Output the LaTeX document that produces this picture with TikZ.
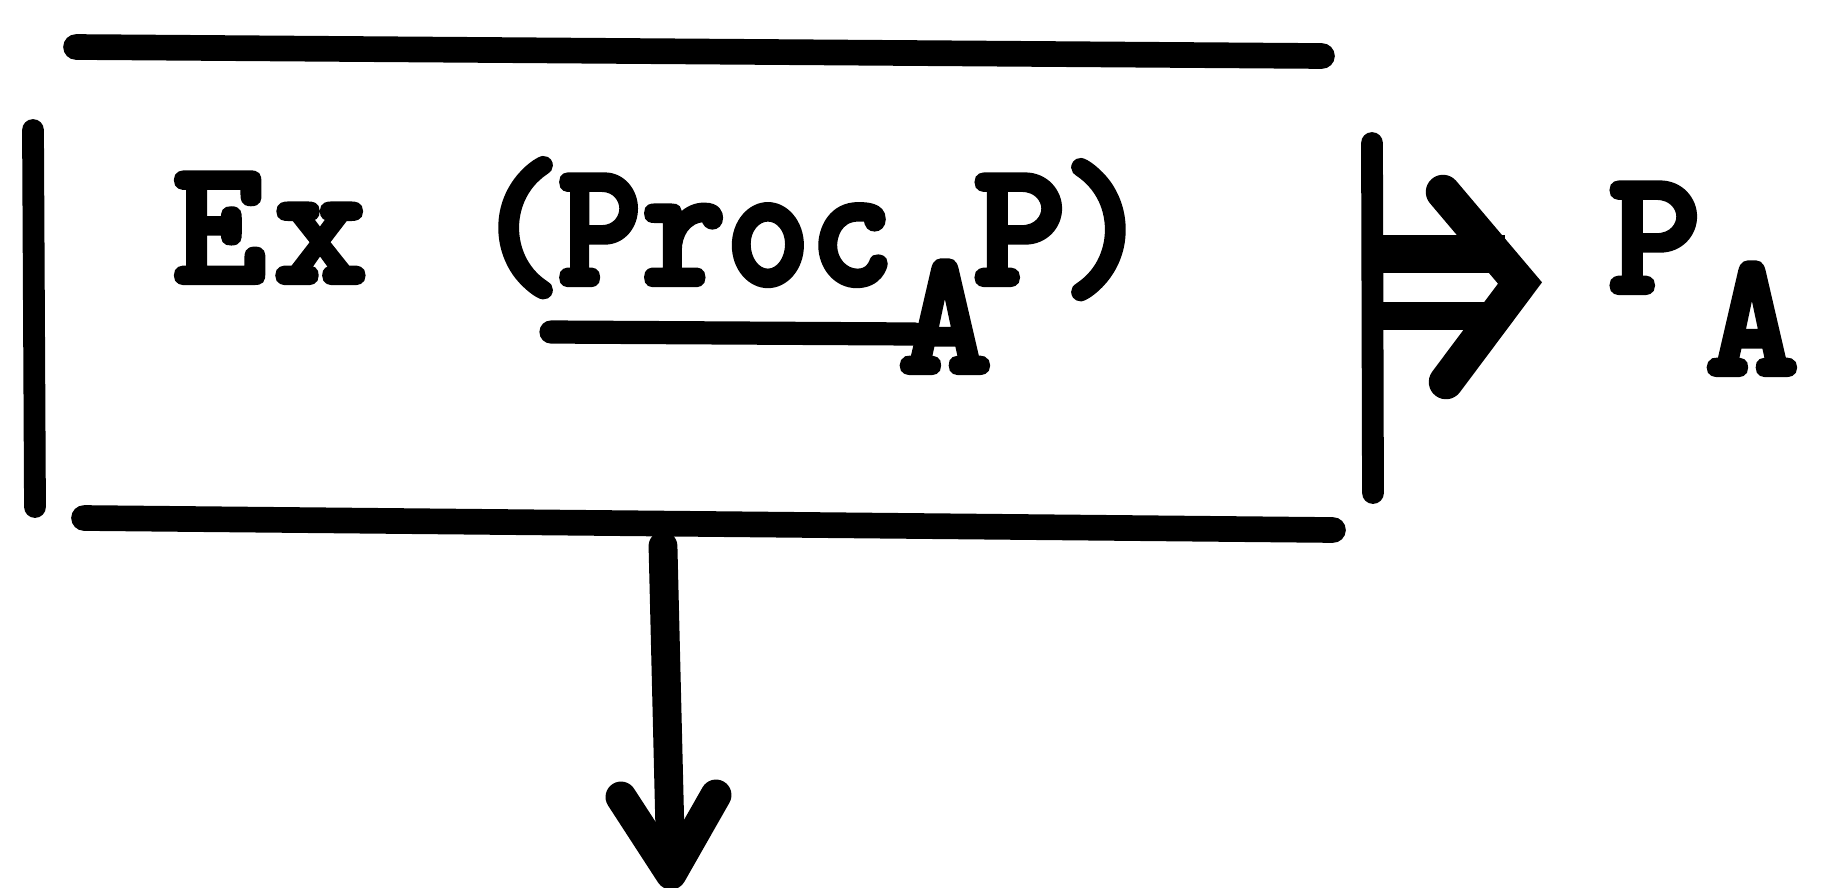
\documentclass[tikz,border=0pt]{standalone}
\usepackage{fontspec}
\newfontfamily\twfont{lmmonolt10-bold.otf}[FakeBold=3.5]
\tikzset{
  rule/.style={line width=7.3pt, line cap=round},
  vrule/.style={line width=6.2pt, line cap=round},
  shaft/.style={line width=8.2pt, line cap=round, line join=round},
  chev/.style={line width=9.8pt, line cap=round, line join=miter},
  txt/.style={inner sep=0pt, anchor=base, font=\fontsize{50.5}{51}\selectfont\twfont}
}
\begin{document}
\begin{tikzpicture}[x=0.01cm, y=-0.01cm]
\useasboundingbox (0,0) rectangle (1829,887);
% box edges
\coordinate (tl) at (76,47);  \coordinate (tr) at (1322,56);
\coordinate (bl) at (84,518); \coordinate (br) at (1333,530);
\coordinate (lt) at (33,130); \coordinate (lb) at (35,507);
\coordinate (rt) at (1372,143); \coordinate (rb) at (1373,493);
\draw[rule] (tl) -- (tr);
\draw[rule] (bl) -- (br);
\draw[vrule] (lt) -- (lb);
\draw[vrule] (rt) -- (rb);
% text
\node[txt] (ex) at (270,282) {E\kern0.08cm x};
\node[txt] (lp) at (518,282) {(};
\node[txt] (proc) at (726,284) {\scalebox{0.9}[1]{Proc}};
\node[txt] (suba) at (945,372) {A};
\node[txt] (p) at (1020,284) {P};
\node[txt] (rp) at (1106,284) {)};
\coordinate (ul1) at (551,332); \coordinate (ul2) at (915,334);
\draw[line width=6.6pt, line cap=round] (ul1) -- (ul2);
% double arrow
\coordinate (u1) at (1372,254); \coordinate (u2) at (1505,254);
\coordinate (l1) at (1372,316); \coordinate (l2) at (1505,316);
\draw[line width=10.8pt] (u1) -- (u2);
\draw[line width=8pt] (l1) -- (l2);
\coordinate (ca) at (1443,192); \coordinate (ct) at (1520,283); \coordinate (cb) at (1446,382);
\draw[chev] (ca) -- (ct) -- (cb);
\node[txt] (pa) at (1655,292) {P};
\node[txt] (pasub) at (1752,374) {A};
% down arrow
\coordinate (dtop) at (663,546); \coordinate (dtip) at (671,874);
\coordinate (dl) at (621,797); \coordinate (dr) at (716,795);
\draw[shaft] (dtop) -- (dtip);
\draw[shaft, line width=8.8pt] (dl) -- (dtip) -- (dr);
\end{tikzpicture}
\end{document}
